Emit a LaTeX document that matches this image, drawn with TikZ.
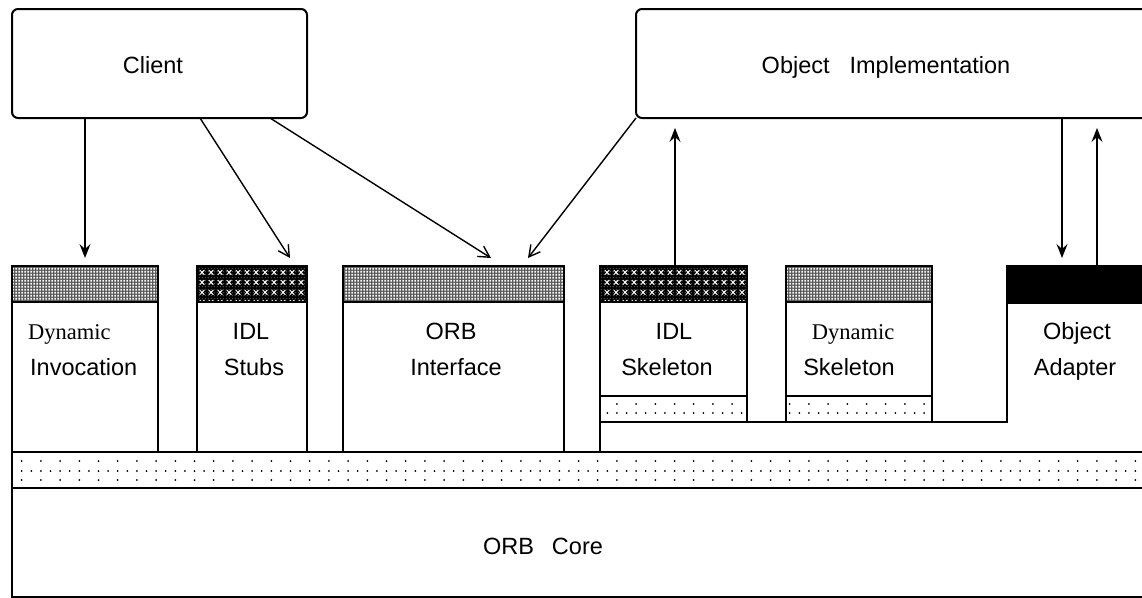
\documentclass[tikz,border=0pt]{standalone}
\usepackage{fontspec}
\setmainfont{Liberation Sans}
\newfontfamily\dynfont{Liberation Serif}
\usetikzlibrary{arrows.meta,patterns.meta,calc}

% fine screen: white squares on a dark grid
\pgfdeclarepattern{
  name=finegrid, type=uncolored,
  bottom left={\pgfpoint{0pt}{0pt}}, top right={\pgfpoint{3pt}{3pt}},
  tile size={\pgfpoint{3pt}{3pt}},
  code={\pgfpathrectangle{\pgfpoint{0.4pt}{0.4pt}}{\pgfpoint{2.2pt}{2.2pt}}\pgfusepath{fill}}}
% sparse screen used under the cross marks
\pgfdeclarepattern{
  name=sparsegrid, type=uncolored,
  bottom left={\pgfpoint{0pt}{0pt}}, top right={\pgfpoint{3pt}{3pt}},
  tile size={\pgfpoint{3pt}{3pt}},
  code={\pgfpathrectangle{\pgfpoint{1pt}{1pt}}{\pgfpoint{1pt}{1pt}}\pgfusepath{fill}}}
% rows of small crosses
\pgfdeclarepattern{
  name=crosses, type=uncolored,
  bottom left={\pgfpoint{0pt}{0pt}}, top right={\pgfpoint{9pt}{10pt}},
  tile size={\pgfpoint{9pt}{10pt}},
  code={\pgfsetlinewidth{1.1pt}%
    \pgfpathmoveto{\pgfpoint{2pt}{2.5pt}}\pgfpathlineto{\pgfpoint{7pt}{7.5pt}}%
    \pgfpathmoveto{\pgfpoint{2pt}{7.5pt}}\pgfpathlineto{\pgfpoint{7pt}{2.5pt}}%
    \pgfusepath{stroke}}}

\tikzset{
  lbl/.style={font=\fontsize{23.5}{28}\selectfont, inner sep=0pt},
  serlbl/.style={font=\dynfont\fontsize{22.5}{28}\selectfont, inner sep=0pt},
  comp/.style={draw, line width=2pt, rectangle, inner sep=0pt, outer sep=0pt, anchor=north west},
  topbox/.style={comp, rounded corners=6pt},
  ln/.style={line width=2pt},
  arrV/.style={line width=1.4pt, -{Stealth[length=14pt,width=11pt,inset=5pt]}},
  arrD/.style={line width=1.4pt, -{Straight Barb[length=11pt,width=12pt]}},
  gridfill/.style={fill=black!65, postaction={pattern=finegrid, pattern color=white}},
  xfill/.style={fill=black, postaction={pattern=sparsegrid, pattern color=white!70!black},
                postaction={pattern=crosses, pattern color=white}},
  dot/.style={fill=black}
}

\begin{document}
\begin{tikzpicture}[x=1pt,y=-1pt]
\useasboundingbox (0,0) rectangle (1142,597);
\clip (0,0) rectangle (1142,597);

% shaded tops of the interface blocks
\path[gridfill] (12,266) rectangle (158,302);
\path[xfill]    (197,266) rectangle (307,302);
\path[gridfill] (343,266) rectangle (564,302);
\path[xfill]    (600,266) rectangle (747,302);
\path[gridfill] (786,266) rectangle (932,302);
\fill[black]    (1007,266) rectangle (1160,303);

% dotted strips under the skeletons
\foreach \k in {61,...,75} \fill[dot] ({21.7+9.6*\k},413) circle (1.0);
\foreach \k in {62,64,...,74} \fill[dot] ({21.7+9.6*\k},404) circle (1.0);
\foreach \k in {80,...,94} \fill[dot] ({21.7+9.6*\k},413) circle (1.0);
\foreach \k in {80,82,...,94} \fill[dot] ({21.7+9.6*\k},404) circle (1.0);

% dotted band above the core
\foreach \k in {0,...,116} \fill[dot] ({21.7+9.6*\k},471) circle (1.0);
\foreach \k in {0,2,...,116} {
  \fill[dot] ({21.7+9.6*\k},461) circle (1.0);
  \fill[dot] ({21.7+9.6*\k},480) circle (1.0);
}

% top-level boxes
\node[topbox, minimum width=295pt, minimum height=109pt] (client) at (12,9) {};
\node[topbox, minimum width=560pt, minimum height=109pt] (impl) at (636,9) {};
\node[lbl, anchor=base] (clienttxt) at (153,73) {Client};
\node[lbl, anchor=base] (impltxt) at (886,73) {Object\hspace{20pt}Implementation};

% interface blocks
\node[comp, minimum width=146pt, minimum height=186pt] (di)    at (12,266) {};
\node[comp, minimum width=110pt, minimum height=186pt] (stubs) at (197,266) {};
\node[comp, minimum width=221pt, minimum height=186pt] (orbi)  at (343,266) {};
\node[comp, minimum width=147pt, minimum height=156pt] (idlsk) at (600,266) {};
\node[comp, minimum width=146pt, minimum height=156pt] (dynsk) at (786,266) {};
\coordinate (oa) at (1007,266);

% band and core
\node[comp, minimum width=1160pt, minimum height=36pt] (band) at (12,452) {};
\node[comp, minimum width=1160pt, minimum height=109pt] (core) at (12,488) {};

% inner rules
\draw[ln] (di.west |- 0,302) -- (di.east |- 0,302);
\draw[ln] (stubs.west |- 0,302) -- (stubs.east |- 0,302);
\draw[ln] (orbi.west |- 0,302) -- (orbi.east |- 0,302);
\draw[ln] (idlsk.west |- 0,302) -- (idlsk.east |- 0,302);
\draw[ln] (dynsk.west |- 0,302) -- (dynsk.east |- 0,302);
\draw[ln] (idlsk.west |- 0,396) -- (idlsk.east |- 0,396);
\draw[ln] (dynsk.west |- 0,396) -- (dynsk.east |- 0,396);
\draw[ln] (idlsk.south west) -- (idlsk.south west |- band.north);
\draw[ln] (idlsk.south west) -- (oa |- idlsk.south) -- (oa) -- ++(160,0);
\draw[ln] (oa |- 0,303) -- ++(160,0);

% labels
\node[serlbl, anchor=base west] (di1) at (28,339) {Dynamic};
\node[lbl, anchor=base west] (di2) at (30,375) {Invocation};
\node[lbl, anchor=base] (st1) at (251,339) {IDL};
\node[lbl, anchor=base] (st2) at (254,375) {Stubs};
\node[lbl, anchor=base] (oi1) at (451,339) {ORB};
\node[lbl, anchor=base] (oi2) at (456,375) {Interface};
\node[lbl, anchor=base] (is1) at (674,339) {IDL};
\node[lbl, anchor=base] (is2) at (667,375) {Skeleton};
\node[serlbl, anchor=base] (ds1) at (853,339) {Dynamic};
\node[lbl, anchor=base] (ds2) at (849,375) {Skeleton};
\node[lbl, anchor=base] (oa1) at (1077,339) {Object};
\node[lbl, anchor=base] (oa2) at (1075,375) {Adapter};
\node[lbl, anchor=base] (coretxt) at (543,554) {ORB\hspace{18pt}Core};

% connectors
\draw[arrV] (di.north |- client.south) -- ([yshift=8pt]di.north);
\draw[arrD] ([xshift=188pt]client.south west) -- ([xshift=-17pt,yshift=8pt]stubs.north east);
\draw[arrD] ([xshift=258pt]client.south west) -- ([xshift=148pt,yshift=8pt]orbi.north west);
\draw[arrD] (impl.south west) -- ([xshift=-36pt,yshift=8pt]orbi.north east);
\draw[arrV] ([xshift=1.5pt]idlsk.north) -- ([xshift=1.5pt,yshift=-10pt]idlsk.north |- impl.south);
\draw[arrV] ([xshift=426pt]impl.south west) -- ([xshift=55pt,yshift=8pt]oa);
\draw[arrV] ([xshift=90pt]oa) -- ([xshift=461pt,yshift=-10pt]impl.south west);
\end{tikzpicture}
\end{document}
